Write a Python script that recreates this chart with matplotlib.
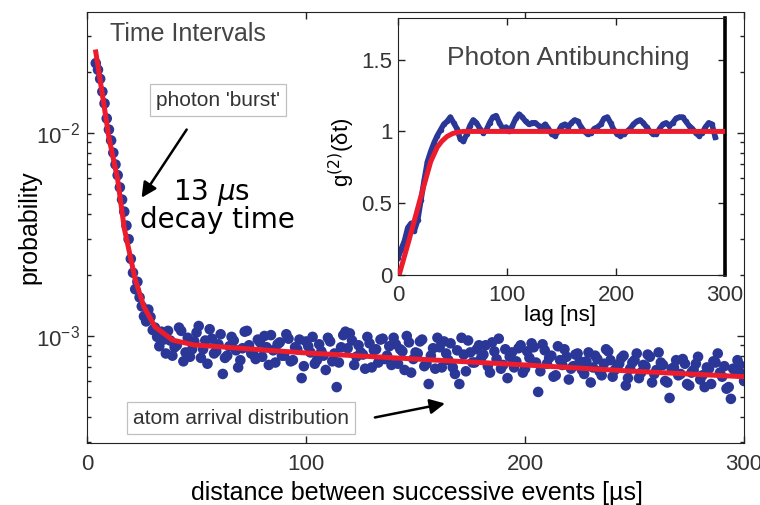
import numpy as np
import matplotlib
matplotlib.use("Agg")
import matplotlib.pyplot as plt
from matplotlib.ticker import NullFormatter

BLUE = "#2b3796"
RED = "#ec1c2c"
TXT = "#333333"

# main panel: interval histogram, bin centres [us] and probability (x 1e-4)
# even bins 4..300 us
interval_even = np.arange(4, 301, 2)
prob_even_e4 = [
    # decay part, 4..40 us
    221, 185, 140, 104, 80, 62, 47, 35, 24, 17,
    15.5, 12.5, 13.5, 10.7, 9.9, 10.5, 8.2, 9.5, 8.8,
    # atom arrival part, 42..300 us
    11.0, 7.5, 9.8, 8.6, 10.4, 7.8, 9.5, 10.8, 8.2, 9.1,
    6.5, 8.0, 9.9, 8.5, 7.6, 10.5, 9.0, 8.1, 9.6, 7.9,
    8.8, 10.1, 7.4, 9.3, 8.0, 9.7, 7.6, 8.6, 6.2, 9.4,
    8.3, 7.3, 9.1, 8.0, 9.8, 7.5, 5.6, 8.8, 10.5, 10.3,
    7.2, 9.0, 8.1, 9.9, 7.0, 8.6, 9.6, 7.7, 8.9, 9.8,
    7.3, 8.4, 10.0, 6.6, 8.3, 9.4, 7.1, 5.8, 8.7, 9.8,
    7.0, 8.2, 9.2, 6.5, 5.8, 8.1, 9.5, 7.4, 8.6, 7.8,
    9.0, 6.6, 8.4, 9.7, 7.2, 6.2, 8.3, 7.5, 9.0, 6.9,
    7.8, 8.8, 5.3, 9.1, 7.3, 8.0, 6.4, 7.6, 8.6, 6.1,
    7.1, 8.2, 6.8, 7.5, 5.9, 8.0, 6.7, 7.3, 8.4, 6.3,
    7.0, 7.8, 5.7, 6.9, 7.6, 6.2, 7.2, 8.1, 5.9, 6.8,
    7.4, 6.0, 4.95, 7.0, 6.4, 7.7, 5.8, 6.6, 7.3, 6.1,
    5.6, 6.9, 7.5, 8.2, 6.3, 5.5, 4.9, 6.7, 7.2, 6.0,
]
# odd bins 5..299 us
interval_odd = np.arange(5, 300, 2)
prob_odd_e4 = [
    # decay part, 5..39 us
    205, 160, 118, 92, 70, 54, 41, 30, 20.5, 18.5,
    14, 11.8, 12.4, 11.0, 8.9, 9.6, 10.6, 8.0,
    # atom arrival part, 41..299 us
    9.0, 10.6, 8.3, 7.9, 9.4, 11.2, 8.6, 7.3, 9.7, 8.4,
    10.2, 7.8, 8.9, 9.5, 7.0, 8.7, 10.6, 8.2, 7.7, 9.3,
    10.0, 7.2, 8.5, 9.1, 8.0, 10.2, 7.5, 8.8, 9.6, 7.1,
    8.9, 9.9, 7.6, 8.4, 6.8, 9.4, 8.2, 7.4, 10.1, 8.7,
    9.5, 7.9, 8.3, 6.9, 9.2, 8.5, 7.4, 9.7, 8.0, 7.2,
    9.1, 8.6, 6.8, 9.3, 7.7, 8.2, 9.6, 7.3, 8.0, 6.9,
    8.8, 9.4, 7.6, 7.0, 8.5, 9.8, 6.7, 8.3, 7.4, 9.0,
    8.1, 7.1, 9.3, 7.7, 6.9, 8.6, 7.9, 7.0, 8.7, 6.6,
    8.4, 9.2, 7.4, 6.7, 8.5, 7.8, 6.3, 8.9, 7.2, 7.9,
    6.9, 8.1, 7.5, 6.5, 8.3, 7.0, 7.7, 6.4, 8.6, 7.6,
    6.8, 7.3, 8.0, 6.2, 7.4, 8.2, 6.6, 7.1, 7.9, 6.5,
    8.3, 7.2, 5.9, 6.9, 7.6, 6.5, 7.3, 5.7, 6.8, 7.9,
    6.4, 7.0, 5.8, 7.4, 6.6, 7.1, 5.6, 6.9, 7.6, 6.5,
]
interval_us = np.concatenate([interval_even, interval_odd])
prob = np.concatenate([prob_even_e4, prob_odd_e4]) * 1e-4

# fitted curve
fit_us = [4, 7, 10, 14, 17, 22, 26, 31, 39, 49, 70, 100, 150, 200, 250, 300]
fit_prob = [0.0251, 0.0155, 0.0095, 0.0059, 0.0034, 0.0019, 0.00139, 0.00111,
            0.000955, 0.000903, 0.00087, 0.000825, 0.00077, 0.00072, 0.00067, 0.00063]

# inset: g2 vs lag
lag_ns = np.arange(0, 292, 3)
g2 = [
    0.12, 0.18, 0.24, 0.33, 0.36, 0.31, 0.38, 0.52, 0.66, 0.79,
    0.86, 0.92, 0.97, 1.01, 1.05, 1.07, 1.10, 1.06, 1.02, 0.95,
    0.93, 0.98, 1.04, 1.08, 1.06, 1.02, 0.99, 1.01, 1.06, 1.10,
    1.11, 1.06, 1.02, 1.03, 1.00, 1.04, 1.09, 1.12, 1.10, 1.07,
    1.05, 1.06, 1.06, 1.04, 1.03, 1.05, 1.02, 0.98, 0.97, 1.00,
    1.04, 1.05, 1.03, 1.06, 1.08, 1.07, 1.03, 1.00, 0.98, 0.99,
    1.02, 1.03, 1.05, 1.09, 1.10, 1.06, 1.01, 0.98, 0.97, 0.98,
    1.00, 1.02, 1.05, 1.07, 1.08, 1.06, 1.03, 1.00, 0.98, 0.98,
    1.02, 1.05, 1.06, 1.04, 1.06, 1.09, 1.10, 1.10, 1.07, 1.04,
    1.02, 0.99, 0.97, 0.99, 1.03, 1.06, 1.05, 0.96,
]
fit_lag = [1, 10, 20, 30, 36, 40, 45, 50, 55, 60, 300]
fit_g2 = [0.0, 0.24, 0.52, 0.79, 0.89, 0.93, 0.965, 0.985, 0.995, 1.0, 1.0]

plt.rcParams.update({
    "font.family": ["Liberation Sans", "DejaVu Sans"],
    "text.color": TXT,
    "axes.edgecolor": "#222222",
    "xtick.color": "#222222",
    "ytick.color": "#222222",
    "xtick.labelcolor": TXT,
    "ytick.labelcolor": TXT,
})

fig = plt.figure(figsize=(7.6, 5.05), dpi=100)
ax = fig.add_axes([0.1145, 0.1228, 0.8645, 0.853])

ax.scatter(interval_us, prob, s=58, color=BLUE, edgecolors="none", zorder=2)
ax.plot(fit_us, fit_prob, color=RED, lw=3.6, zorder=3)

ax.set_yscale("log")
ax.set_xlim(0, 300)
ax.set_ylim(2.97e-4, 3.94e-2)
ax.set_xticks([0, 100, 200, 300])
ax.yaxis.set_minor_formatter(NullFormatter())
ax.tick_params(which="both", direction="in", top=True, right=True, width=1)
ax.tick_params(which="major", length=5)
ax.tick_params(which="minor", length=3)
ax.tick_params(axis="x", labelsize=16, pad=8)
ax.tick_params(axis="y", labelsize=16, pad=5)
ax.set_xlabel("distance between successive events [µs]", fontsize=18, va="center")
ax.xaxis.set_label_coords(0.502, -0.116)
ax.set_ylabel("probability", fontsize=18, va="center")
ax.yaxis.set_label_coords(-0.087, 0.5)

ax.text(0.035, 0.949, "Time Intervals", transform=ax.transAxes, fontsize=18,
        ha="left", va="center", color="#444444")

box = dict(boxstyle="square,pad=0.3", fc="white", ec="#c0c0c0", lw=0.9)
ax.text(0.199, 0.796, "photon 'burst'", transform=ax.transAxes, fontsize=15,
        ha="center", va="center", bbox=box)
ax.annotate("", xy=(0.0807, 0.564), xytext=(0.154, 0.733),
            xycoords="axes fraction", textcoords="axes fraction",
            arrowprops=dict(arrowstyle="-|>,head_length=0.9,head_width=0.45",
                            color="black", lw=1.8))
ax.text(0.190, 0.582, "13 $\\mu$s", transform=ax.transAxes, fontsize=20,
        ha="center", va="center", color="black", family="DejaVu Sans")
ax.text(0.198, 0.517, "decay time", transform=ax.transAxes, fontsize=20,
        ha="center", va="center", color="black", family="DejaVu Sans")

ax.text(0.234, 0.058, "atom arrival distribution", transform=ax.transAxes,
        fontsize=15, ha="center", va="center", bbox=box)
ax.annotate("", xy=(0.549, 0.093), xytext=(0.434, 0.058),
            xycoords="axes fraction", textcoords="axes fraction",
            arrowprops=dict(arrowstyle="-|>,head_length=0.9,head_width=0.45",
                            color="black", lw=1.8))

# inset
axi = fig.add_axes([0.5237, 0.4554, 0.4303, 0.509])
axi.plot(lag_ns, g2, color=BLUE, lw=4, marker="o", ms=4, mec="none", zorder=2)
axi.plot(fit_lag, fit_g2, color=RED, lw=3.6, zorder=3)
axi.set_xlim(0, 300)
axi.set_ylim(0, 1.79)
axi.set_xticks([0, 100, 200, 300])
axi.set_yticks([0, 0.5, 1, 1.5])
axi.set_yticklabels(["0", "0.5", "1", "1.5"])
axi.tick_params(direction="in", top=True, right=True, length=5, width=1)
axi.tick_params(axis="x", labelsize=16, pad=7)
axi.tick_params(axis="y", labelsize=16, pad=4)
axi.spines["right"].set_linewidth(2.6)
axi.spines["right"].set_color("black")
axi.set_xlabel("lag [ns]", fontsize=16, va="center")
axi.xaxis.set_label_coords(0.495, -0.156)
axi.set_ylabel("g$^{(2)}$(δt)", fontsize=16, va="center")
axi.yaxis.set_label_coords(-0.171, 0.479)
axi.text(0.52, 0.845, "Photon Antibunching", transform=axi.transAxes,
         fontsize=19, ha="center", va="center", color="#444444")

fig.savefig("out.png", dpi=100)
